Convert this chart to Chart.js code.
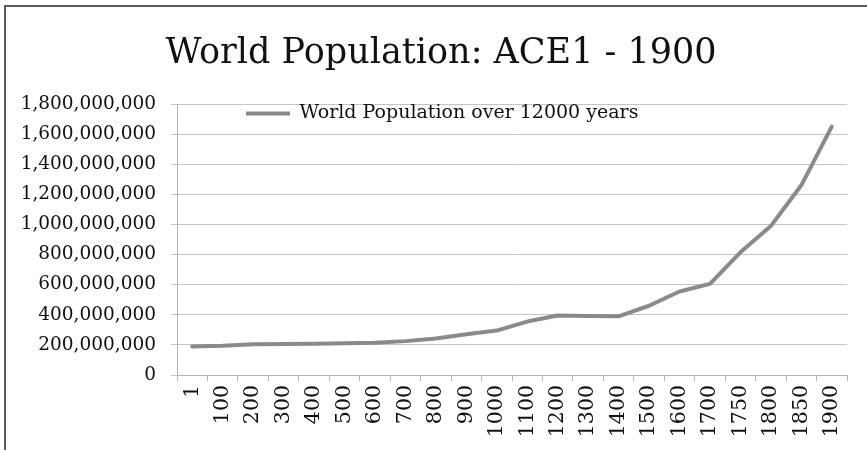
<!DOCTYPE html>
<html>
<head>
<meta charset="utf-8">
<script src="https://cdn.jsdelivr.net/npm/chart.js@4.4.1/dist/chart.umd.min.js"></script>
<style>
  html, body { margin: 0; padding: 0; background: #fff; }
  #box { width: 867px; height: 450px; position: relative; }
</style>
</head>
<body>
<div id="box"><canvas id="grafico"></canvas></div>
<script>
// dados
const anos = ['1', '100', '200', '300', '400', '500', '600', '700', '800', '900', '1000',
  '1100', '1200', '1300', '1400', '1500', '1600', '1700', '1750', '1800', '1850', '1900'];
const populacao = [190000000, 195000000, 205000000, 206000000, 208000000, 211000000, 214000000,
  225000000, 242000000, 270000000, 295000000, 355000000, 395000000, 392000000, 390000000,
  460000000, 555000000, 605000000, 815000000, 990000000, 1260000000, 1650000000];
const tituloTexto = 'World Population: ACE1 - 1900';
const legendaTexto = 'World Population over 12000 years';

const fonte = "'DejaVu Serif', serif";

// moldura (so topo e esquerda aparecem)
const moldura = {
  id: 'moldura',
  beforeDraw(chart) {
    const ctx = chart.ctx;
    ctx.save();
    ctx.fillStyle = '#fff';
    ctx.fillRect(0, 0, chart.width, chart.height);
    ctx.strokeStyle = '#5a5a5a';
    ctx.lineWidth = 2;
    ctx.beginPath();
    ctx.moveTo(5, 450);
    ctx.lineTo(5, 6);
    ctx.lineTo(867, 6);
    ctx.stroke();
    ctx.restore();
  }
};

// legenda dentro da area e titulo um pouco para a direita
const posicoes = {
  id: 'posicoes',
  afterLayout(chart) {
    const lg = chart.legend;
    const w = lg.width;
    lg.left = 246;
    lg.right = 246 + w;
    lg.top = chart.chartArea.top;
    chart.titleBlock.left = 35;
    chart.titleBlock.right = 847;
  }
};

new Chart(document.getElementById('grafico'), {
  type: 'line',
  data: {
    labels: anos,
    datasets: [{
      label: legendaTexto,
      data: populacao,
      borderColor: '#8a8a8a',
      backgroundColor: '#8a8a8a',
      borderWidth: 4,
      pointRadius: 0,
      tension: 0,
      borderCapStyle: 'round',
      borderJoinStyle: 'round'
    }]
  },
  options: {
    responsive: true,
    maintainAspectRatio: false,
    animation: false,
    layout: { padding: { left: 0, right: 20, top: 0, bottom: 0 } },
    plugins: {
      title: {
        display: true,
        text: tituloTexto,
        color: '#111',
        font: { family: fonte, size: 35, weight: 'normal' },
        padding: { top: 33, bottom: 29 }
      },
      legend: {
        position: 'chartArea',
        align: 'start',
        labels: {
          usePointStyle: true,
          pointStyle: 'line',
          pointStyleWidth: 44,
          padding: 0,
          color: '#111',
          font: { family: fonte, size: 19 }
        }
      },
      tooltip: { enabled: false }
    },
    scales: {
      x: {
        offset: true,
        afterFit(s) { s.height = 75; },
        grid: { offset: true, drawOnChartArea: false, tickLength: 6, color: '#b4b4b4' },
        border: { color: '#b4b4b4' },
        ticks: {
          minRotation: 90,
          maxRotation: 90,
          autoSkip: false,
          padding: 4,
          color: '#111',
          font: { family: fonte, size: 20.5 }
        }
      },
      y: {
        min: 0,
        max: 1800000000,
        afterFit(s) { s.width = 177; },
        grid: { tickLength: 6, color: '#c4c4c4' },
        border: { color: '#b4b4b4' },
        ticks: {
          stepSize: 200000000,
          padding: 15,
          color: '#111',
          font: { family: fonte, size: 18.5 },
          callback: v => v.toLocaleString('en-US')
        }
      }
    }
  },
  plugins: [moldura, posicoes]
});
</script>
</body>
</html>
